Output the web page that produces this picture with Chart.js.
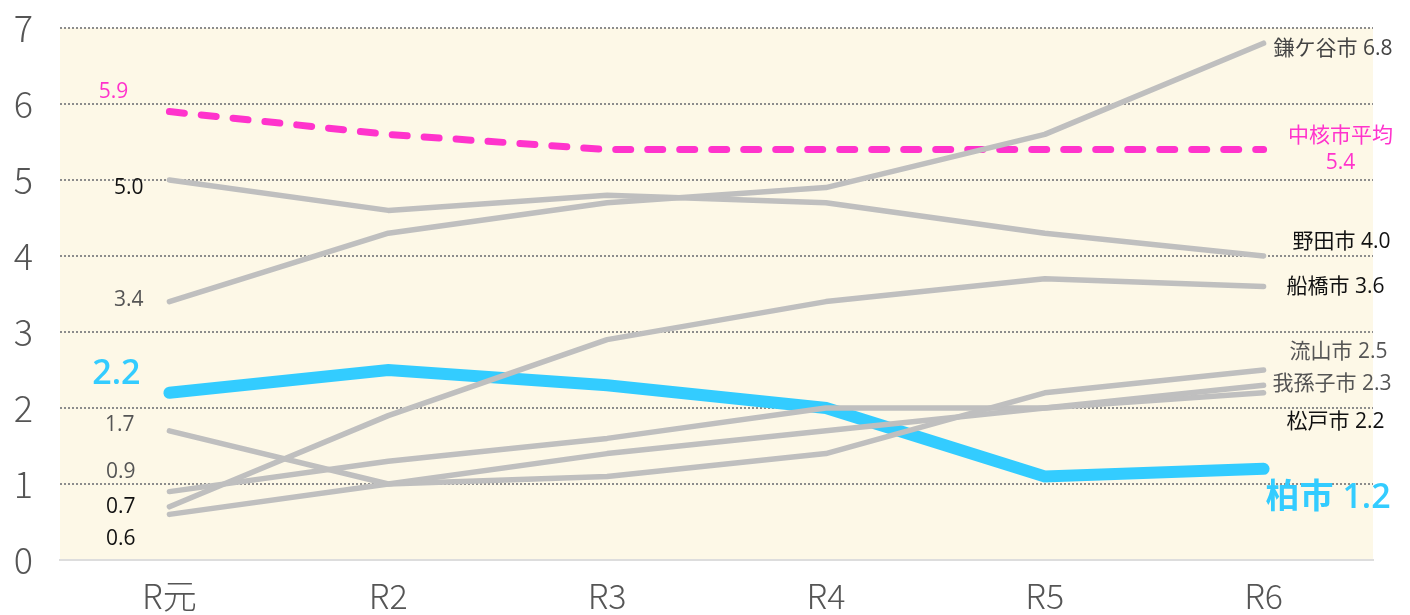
<!DOCTYPE html>
<html>
<head>
<meta charset="utf-8">
<script src="https://cdn.jsdelivr.net/npm/chart.js@4"></script>
<style>
  html, body { margin: 0; padding: 0; background: #ffffff; }
  #wrap { width: 1410px; height: 615px; }
</style>
</head>
<body>
<div id="wrap"><canvas id="chart" width="1410" height="615"></canvas></div>
<script>
// 年度
const years = ['R元', 'R2', 'R3', 'R4', 'R5', 'R6'];
const yTicks = [0, 1, 2, 3, 4, 5, 6, 7];

// 各市の値
const kashiwa    = [2.2, 2.5, 2.3, 2.0, 1.1, 1.2];
const chukakuAvg = [5.9, 5.6, 5.4, 5.4, 5.4, 5.4];
const kamagaya   = [3.4, 4.3, 4.7, 4.9, 5.6, 6.8];
const noda       = [5.0, 4.6, 4.8, 4.7, 4.3, 4.0];
const funabashi  = [0.7, 1.9, 2.9, 3.4, 3.7, 3.6];
const nagareyama = [1.7, 1.0, 1.1, 1.4, 2.2, 2.5];
const abiko      = [0.9, 1.3, 1.6, 2.0, 2.0, 2.3];
const matsudo    = [0.6, 1.0, 1.4, 1.7, 2.0, 2.2];

const FONT = '"Noto Sans CJK JP", "Noto Sans", sans-serif';
const LABEL_FONT = '"Open Sans", "Noto Sans CJK JP", sans-serif';
const GRAY = '#bfbfbf';
const BLUE = '#33ccff';
const PINK = '#ff33cc';

// label styling: offsets from first / last point
const labelStyles = {
    '柏市':      { color: BLUE, size: 34, weight: '600',
                   left: { dx: -29, dy: -18, align: 'right' }, right: { dx: 127, dy: 30, align: 'right' } },
    '中核市平均': { color: PINK, size: 21, weight: '400', twoLine: true,
                   left: { dx: -56, dy: -20, align: 'center' }, right: { dx: 77, dy: -14, align: 'center' } },
    '鎌ケ谷市':   { color: '#444', leftColor: '#555', size: 21, weight: '400',
                   left: { dx: -26, dy: -2, align: 'right' }, right: { dx: 129, dy: 6, align: 'right' } },
    '野田市':     { color: '#111', size: 21, weight: '400',
                   left: { dx: -26, dy: 8, align: 'right' }, right: { dx: 127, dy: -14, align: 'right' } },
    '船橋市':     { color: '#111', size: 21, weight: '400',
                   left: { dx: -34, dy: 0, align: 'right' }, right: { dx: 121, dy: 1, align: 'right' } },
    '流山市':     { color: '#555', size: 21, weight: '400',
                   left: { dx: -35, dy: -6, align: 'right' }, right: { dx: 124, dy: -18, align: 'right' } },
    '我孫子市':   { color: '#555', size: 21, weight: '400',
                   left: { dx: -34, dy: -20, align: 'right' }, right: { dx: 128, dy: -1, align: 'right' } },
    '松戸市':     { color: '#111', size: 21, weight: '400',
                   left: { dx: -34, dy: 25, align: 'right' }, right: { dx: 121, dy: 29, align: 'right' } }
};

function grayLine(label, data) {
    return {
        label, data,
        borderColor: GRAY, borderWidth: 5.5,
        borderCapStyle: 'round', borderJoinStyle: 'round',
        pointRadius: 0, tension: 0, order: 1
    };
}

const bgPlugin = {
    id: 'bg',
    beforeDraw(chart) {
        const { ctx, chartArea: a } = chart;
        ctx.save();
        ctx.fillStyle = '#fdf8e7';
        ctx.fillRect(a.left, a.top, a.right - a.left, a.bottom - a.top);
        ctx.restore();
    }
};

const labelPlugin = {
    id: 'endLabels',
    afterDatasetsDraw(chart) {
        const ctx = chart.ctx;
        const xs = chart.scales.x, ys = chart.scales.y;
        chart.data.datasets.forEach(ds => {
            const st = labelStyles[ds.label];
            if (!st) return;
            const n = ds.data.length;
            ctx.save();
            ctx.font = `${st.weight} ${st.size}px ${LABEL_FONT}`;
            ctx.textBaseline = 'middle';

            // left value
            const x0 = xs.getPixelForValue(0), y0 = ys.getPixelForValue(ds.data[0]);
            ctx.fillStyle = st.leftColor || st.color;
            ctx.textAlign = st.left.align;
            ctx.fillText(ds.data[0].toFixed(1), x0 + st.left.dx, y0 + st.left.dy);

            // right name + value
            const x1 = xs.getPixelForValue(n - 1), y1 = ys.getPixelForValue(ds.data[n - 1]);
            ctx.fillStyle = st.color;
            ctx.textAlign = st.right.align;
            const last = ds.data[n - 1].toFixed(1);
            if (st.twoLine) {
                ctx.fillText(ds.label, x1 + st.right.dx, y1 + st.right.dy);
                ctx.fillText(last, x1 + st.right.dx, y1 + st.right.dy + 27);
            } else {
                ctx.fillText(`${ds.label} ${last}`, x1 + st.right.dx, y1 + st.right.dy);
            }
            ctx.restore();
        });
    }
};

new Chart(document.getElementById('chart').getContext('2d'), {
    type: 'line',
    data: {
        labels: years,
        datasets: [
            {
                label: '柏市', data: kashiwa,
                borderColor: BLUE, borderWidth: 12,
                borderCapStyle: 'round', borderJoinStyle: 'miter',
                pointRadius: 0, tension: 0, order: 3
            },
            {
                label: '中核市平均', data: chukakuAvg,
                borderColor: PINK, borderWidth: 7, borderDash: [15, 17],
                borderCapStyle: 'round', borderJoinStyle: 'round',
                pointRadius: 0, tension: 0, order: 2
            },
            grayLine('鎌ケ谷市', kamagaya),
            grayLine('野田市', noda),
            grayLine('船橋市', funabashi),
            grayLine('流山市', nagareyama),
            grayLine('我孫子市', abiko),
            grayLine('松戸市', matsudo)
        ]
    },
    options: {
        responsive: false,
        animation: false,
        layout: { padding: { top: 28, right: 37, bottom: 0, left: 0 } },
        plugins: {
            legend: { display: false },
            tooltip: { enabled: false },
            title: { display: false }
        },
        scales: {
            x: {
                offset: true,
                grid: { display: false, drawTicks: false },
                border: { display: true, color: '#dddddd', width: 2 },
                ticks: {
                    color: '#555555', padding: 16,
                    font: { family: FONT, size: 34, weight: '300' }
                },
                afterFit(scale) { scale.height = 55; scale.paddingLeft = 0; scale.paddingRight = 0; }
            },
            y: {
                min: 0, max: 7,
                afterBuildTicks(scale) { scale.ticks = yTicks.map(v => ({ value: v })); },
                grid: {
                    drawTicks: false,
                    color: ctx => ctx.tick.value === 0 ? 'rgba(0,0,0,0)' : '#8c8c8c',
                    lineWidth: 2
                },
                border: { display: false, dash: [2, 2] },
                ticks: {
                    color: '#555555', padding: 27,
                    font: { family: FONT, size: 36, weight: '300' }
                },
                afterFit(scale) { scale.width = 60; scale.paddingTop = 0; scale.paddingBottom = 0; }
            }
        }
    },
    plugins: [bgPlugin, labelPlugin]
});
</script>
</body>
</html>
